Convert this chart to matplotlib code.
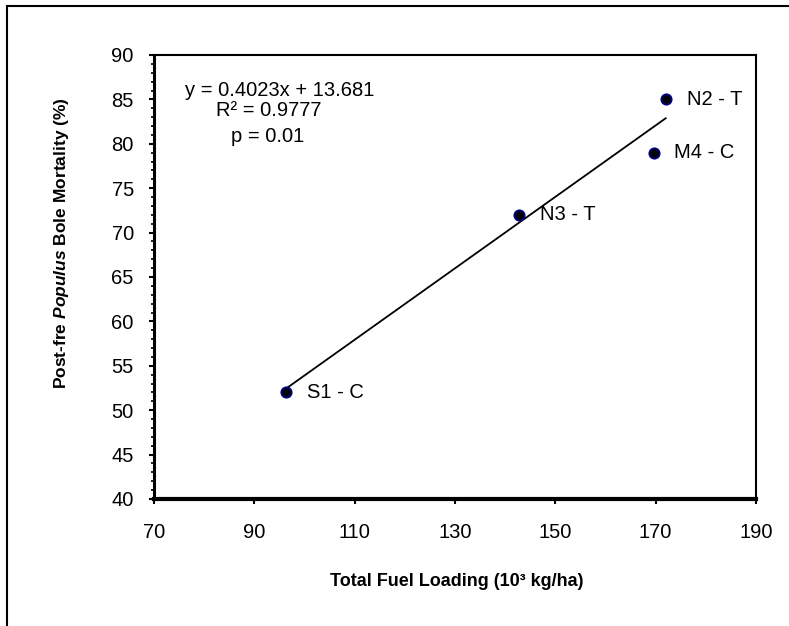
import matplotlib
matplotlib.use("Agg")
import matplotlib.pyplot as plt
from matplotlib.ticker import MultipleLocator
from matplotlib.lines import Line2D

plt.rcParams['font.family'] = ['Liberation Sans', 'DejaVu Sans']
plt.rcParams['mathtext.fontset'] = 'custom'
plt.rcParams['mathtext.rm'] = 'Liberation Sans'
plt.rcParams['mathtext.it'] = 'Liberation Sans:italic'
plt.rcParams['mathtext.bf'] = 'Liberation Sans:bold'
plt.rcParams['mathtext.bfit'] = 'Liberation Sans:bold:italic'

# data
sites = ["S1 - C", "N3 - T", "M4 - C", "N2 - T"]
fuel_loading = [96.3, 142.7, 169.6, 172.0]
mortality = [52.0, 72.0, 79.0, 85.0]
slope = 0.4023
intercept = 13.681
x_ticks = [70, 90, 110, 130, 150, 170, 190]
y_ticks = [40, 45, 50, 55, 60, 65, 70, 75, 80, 85, 90]

W, H = 789, 626
L, R, T, B = 154, 756, 55, 499
fig = plt.figure(figsize=(W / 100, H / 100), dpi=100)
ax = fig.add_axes([L / W, 1 - B / H, (R - L) / W, (B - T) / H])

# figure border (partly cropped)
fig.add_artist(Line2D([7 / W, 7 / W], [0, 1 - 6 / H], transform=fig.transFigure, color='black', lw=1.5))
fig.add_artist(Line2D([7 / W, 1], [1 - 6 / H, 1 - 6 / H], transform=fig.transFigure, color='black', lw=1.5))

# trend line over data range
xs = [min(fuel_loading), max(fuel_loading)]
ys = [slope * v + intercept for v in xs]
ax.plot(xs, ys, color='black', lw=1.3, zorder=2)

ax.scatter(fuel_loading, mortality, s=55, facecolor='black', edgecolor='#000080', linewidth=1.3, zorder=3)
for name, xv, yv in zip(sites, fuel_loading, mortality):
    ax.annotate(name, (xv, yv), xytext=(15, 0), textcoords='offset points',
                ha='left', va='center', fontsize=14.5)

ax.set_xlim(70, 190)
ax.set_ylim(40, 90)
ax.set_xticks(x_ticks)
ax.set_yticks(y_ticks)
ax.yaxis.set_minor_locator(MultipleLocator(1))
ax.tick_params(axis='both', labelsize=14.5, colors='black')
ax.tick_params(axis='x', direction='out', length=3.5, width=1.5, pad=13.5)
ax.tick_params(axis='y', which='major', direction='out', length=3.5, width=1.5, pad=11)
ax.tick_params(axis='y', which='minor', direction='out', length=2.5, width=1.2)

ax.spines['bottom'].set_linewidth(3)
ax.spines['left'].set_linewidth(2.2)
ax.spines['top'].set_linewidth(1.5)
ax.spines['right'].set_linewidth(1.5)

fig.text(457 / W, 1 - 582 / H, "Total Fuel Loading (10³ kg/ha)",
         ha='center', va='center', fontsize=13, fontweight='bold')
fig.text(62 / W, 1 - 243 / H, r"Post-fre $\mathbfit{Populus}$ Bole Mortality (%)",
         rotation=90, ha='center', va='center', fontsize=12.5, fontweight='bold')

def axpos(px, py):
    return ((px - L) / (R - L), (B - py) / (B - T))

ax.text(*axpos(185, 90), "y = 0.4023x + 13.681", transform=ax.transAxes, ha='left', va='center', fontsize=14.5)
ax.text(*axpos(269, 111), "R² = 0.9777", transform=ax.transAxes, ha='center', va='center', fontsize=14.5)
ax.text(*axpos(268, 136), "p = 0.01", transform=ax.transAxes, ha='center', va='center', fontsize=14.5)

fig.savefig("out.png", dpi=100)
